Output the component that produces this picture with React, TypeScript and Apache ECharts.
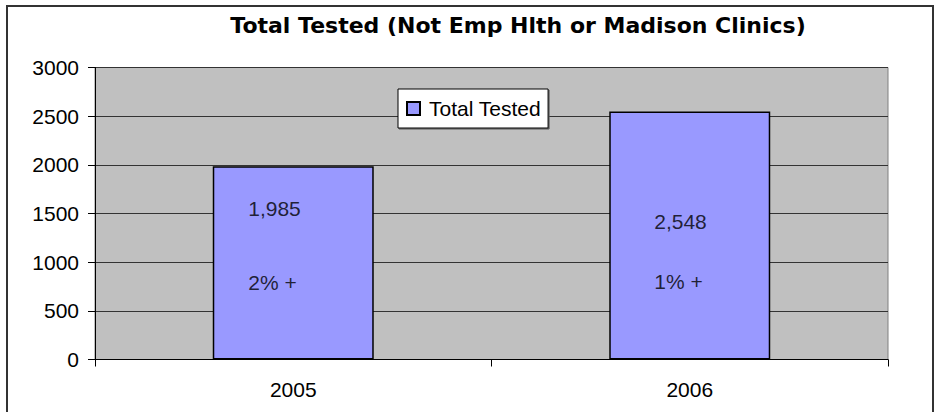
import React, { useEffect, useRef } from "react";
import * as echarts from "echarts";

const categories = ["2005", "2006"];
const totalTested = [1985, 2548];
const countLabels = ["1,985", "2,548"];
const pctLabels = ["2% +", "1% +"];
// vertical anchor (in axis units) of the text boxes inside bars
const countLabelAt = [1556, 1418];
const pctLabelAt = [796, 801];
const yTicks = [0, 500, 1000, 1500, 2000, 2500, 3000];

const FONT = "'Liberation Sans', Arial, sans-serif";
const labelShift = [-45, -35.5];

export default function App() {
  const ref = useRef<HTMLDivElement>(null);
  useEffect(() => {
    if (!ref.current) return;
    const chart = echarts.init(ref.current, undefined, { renderer: "svg" });
    chart.setOption({
      animation: false,
      backgroundColor: "#ffffff",
      title: {
        text: "Total Tested (Not Emp Hlth or Madison Clinics)",
        left: 513,
        textAlign: "center",
        top: 9,
        textStyle: { fontFamily: "'DejaVu Sans', sans-serif", fontSize: 22, fontWeight: "bold", color: "#000" },
      },
      graphic: [
        {
          type: "rect",
          shape: { x: 7, y: 6, width: 926, height: 420 },
          style: { fill: "none", stroke: "#333", lineWidth: 2 },
          silent: true,
        },
      ],
      legend: {
        left: 398,
        top: 89,
        orient: "horizontal",
        data: ["Total Tested"],
        backgroundColor: "#ffffff",
        borderColor: "#000",
        borderWidth: 1,
        shadowColor: "#555",
        shadowOffsetX: 1,
        shadowOffsetY: 1,
        padding: [9, 7, 9, 8],
        icon: "rect",
        itemWidth: 13,
        itemHeight: 13,
        textStyle: { fontFamily: FONT, fontSize: 21, color: "#000", lineHeight: 21, padding: [0, 0, 0, 4] },
      },
      grid: {
        left: 95,
        top: 67.5,
        right: 53,
        bottom: 52.5,
        show: true,
        backgroundColor: "#C0C0C0",
        borderColor: "#808080",
        borderWidth: 1,
      },
      xAxis: {
        type: "category",
        data: categories,
        axisLine: { lineStyle: { color: "#000", width: 1 } },
        axisTick: { show: true, length: 7, alignWithLabel: false, lineStyle: { color: "#000" } },
        axisLabel: { fontFamily: FONT, fontSize: 21, color: "#000", margin: 19 },
        splitLine: { show: false },
      },
      yAxis: {
        type: "value",
        min: yTicks[0],
        max: yTicks[yTicks.length - 1],
        interval: 500,
        axisLine: { show: true, lineStyle: { color: "#000", width: 1 } },
        axisTick: { show: true, length: 7, lineStyle: { color: "#000" } },
        axisLabel: {
          fontFamily: FONT,
          fontSize: 21,
          color: "#000",
          margin: 16,
          formatter: (v: number) => String(v),
        },
        splitLine: { show: true, lineStyle: { color: "#333", width: 1 } },
      },
      series: [
        {
          name: "Total Tested",
          type: "bar",
          data: totalTested,
          barWidth: "40.6%",
          itemStyle: { color: "#9999FF", borderColor: "#000", borderWidth: 1.5 },
        },
        {
          name: "counts",
          type: "scatter",
          symbolSize: 0,
          silent: true,
          data: categories.map((c, i) => [c, countLabelAt[i]]),
          label: {
            show: true,
            position: "inside",
            align: "left",
            formatter: (p: any) => countLabels[p.dataIndex],
            fontFamily: FONT,
            fontSize: 21,
            color: "#000",
          },
          labelLayout: (p: any) => ({ dx: labelShift[p.dataIndex] }),
        },
        {
          name: "pcts",
          type: "scatter",
          symbolSize: 0,
          silent: true,
          data: categories.map((c, i) => [c, pctLabelAt[i]]),
          label: {
            show: true,
            position: "inside",
            align: "left",
            formatter: (p: any) => pctLabels[p.dataIndex],
            fontFamily: FONT,
            fontSize: 21,
            color: "#000",
          },
          labelLayout: (p: any) => ({ dx: labelShift[p.dataIndex] }),
        },
      ],
    });
    return () => chart.dispose();
  }, []);
  return (
    <div style={{ position: "absolute", left: 0, top: 0, width: 941, height: 412, overflow: "hidden" }}>
      <div ref={ref} style={{ width: 941, height: 412 }} />
    </div>
  );
}
